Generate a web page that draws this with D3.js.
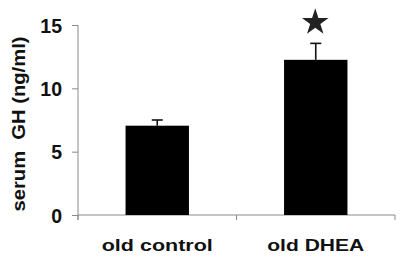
<!DOCTYPE html>
<html>
<head>
<meta charset="utf-8">
<script src="https://cdn.jsdelivr.net/npm/d3@7"></script>
<style>
  body { margin: 0; background: #fff; }
  svg { display: block; font-family: "Liberation Sans", Arial, sans-serif; font-weight: bold; }
</style>
</head>
<body>
<div id="chart"></div>
<script>
// data
let groups = ["old control", "old DHEA"]
let means = [7.05, 12.25]
let errors = [0.45, 1.3]
let yTicks = [0, 5, 10, 15]
let significant = [false, true]

let width = 400, height = 256
let margin = {top: 25, right: 5, bottom: 41, left: 78}

let svg = d3.select("#chart")
    .append("svg")
        .attr("width", width)
        .attr("height", height)

//scales
let x = d3.scaleBand()
    .domain(groups)
    .range([margin.left, width - margin.right])
    .padding(0)

let y = d3.scaleLinear()
    .domain([0, 15])
    .range([height - margin.bottom, margin.top])

let barW = x.bandwidth() * 0.4
let axisColour = "#8a8a8a"

// y axis
let yAxis = svg.append("g")
    .attr("transform", `translate(${margin.left},0)`)
    .call(d3.axisLeft(y).tickValues(yTicks).tickSize(6).tickPadding(10))
yAxis.select(".domain").attr("stroke", axisColour).attr("d", `M0,${y(15)}V${y(0) + 5}`)
yAxis.selectAll(".tick line").attr("stroke", axisColour)
yAxis.selectAll(".tick text")
    .attr("fill", "#111")
    .attr("font-size", 19.5)
    .attr("dy", "0.36em")

// x axis, ticks at the category boundaries
let xAxis = svg.append("g")
    .attr("transform", `translate(0,${y(0)})`)
xAxis.append("line")
    .attr("x1", margin.left).attr("x2", width - margin.right)
    .attr("stroke", axisColour)
let bounds = [margin.left].concat(groups.map(g => x(g) + x.bandwidth()))
xAxis.selectAll("line.sep")
    .data(bounds)
    .join("line")
    .attr("class", "sep")
    .attr("x1", d => d).attr("x2", d => d)
    .attr("y1", 0).attr("y2", 5)
    .attr("stroke", axisColour)

// category labels
xAxis.selectAll("text")
    .data(groups)
    .join("text")
    .attr("x", d => x(d) + x.bandwidth() / 2)
    .attr("y", 36)
    .attr("text-anchor", "middle")
    .attr("font-size", 16.5)
    .attr("fill", "#111")
    .attr("textLength", 111)
    .attr("lengthAdjust", "spacingAndGlyphs")
    .text(d => d)
xAxis.selectAll("text").filter(d => d == "old DHEA").attr("textLength", 97)

// bars
svg.selectAll("rect.bar")
    .data(groups)
    .join("rect")
    .attr("class", "bar")
    .attr("x", d => x(d) + x.bandwidth() / 2 - barW / 2)
    .attr("width", barW)
    .attr("y", (d, i) => y(means[i]))
    .attr("height", (d, i) => y(0) - y(means[i]))
    .attr("fill", "#000")

// error bars (upper only)
let err = svg.selectAll("g.err")
    .data(groups)
    .join("g")
    .attr("class", "err")
    .attr("stroke", "#111")
    .attr("stroke-width", 1.6)
err.append("line")
    .attr("x1", d => x(d) + x.bandwidth() / 2)
    .attr("x2", d => x(d) + x.bandwidth() / 2)
    .attr("y1", (d, i) => y(means[i]))
    .attr("y2", (d, i) => y(means[i] + errors[i]))
err.append("line")
    .attr("x1", d => x(d) + x.bandwidth() / 2 - 5.5)
    .attr("x2", d => x(d) + x.bandwidth() / 2 + 5.5)
    .attr("y1", (d, i) => y(means[i] + errors[i]))
    .attr("y2", (d, i) => y(means[i] + errors[i]))

// significance star
svg.selectAll("path.star")
    .data(groups.filter((d, i) => significant[i]))
    .join("path")
    .attr("class", "star")
    .attr("d", d3.symbol().type(d3.symbolStar).size(220))
    .attr("transform", d => {
        let i = groups.indexOf(d)
        return `translate(${x(d) + x.bandwidth() / 2 - 0.5},${y(means[i] + errors[i]) - 21})`
    })
    .attr("fill", "#222")

// y axis title
svg.append("text")
    .attr("transform", `translate(25,${(margin.top + y(0)) / 2 + 4}) rotate(-90)`)
    .attr("text-anchor", "middle")
    .attr("font-size", 18.5)
    .attr("fill", "#111")
    .attr("textLength", 175)
    .attr("lengthAdjust", "spacingAndGlyphs")
    .attr("xml:space", "preserve")
    .text("serum  GH (ng/ml)")
</script>
</body>
</html>
